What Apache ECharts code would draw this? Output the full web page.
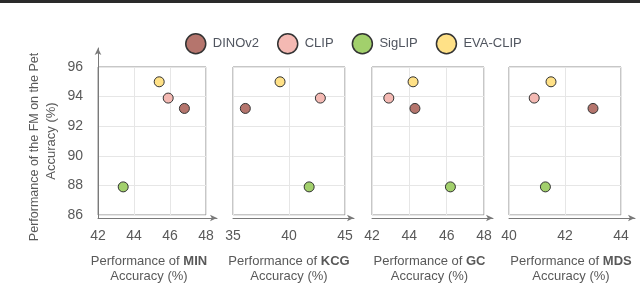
<!DOCTYPE html>
<html>
<head>
<meta charset="utf-8">
<script src="https://cdn.jsdelivr.net/npm/echarts@6/dist/echarts.min.js"></script>
<style>html,body{margin:0;padding:0;background:#fff;}#c{width:640px;height:289px;}</style>
</head>
<body>
<div id="c"></div>
<script>
// ---- data ----
const models = ['DINOv2', 'CLIP', 'SigLIP', 'EVA-CLIP'];
const petAcc = [93.2, 93.9, 87.9, 95.0];
const minAcc = [46.8, 45.9, 43.4, 45.4];
const kcgAcc = [36.1, 42.8, 41.8, 39.2];
const gcAcc  = [44.3, 42.9, 46.2, 44.2];
const mdsAcc = [43.0, 40.9, 41.3, 41.5];
const panelNames = ['MIN', 'KCG', 'GC', 'MDS'];
const panelX = [minAcc, kcgAcc, gcAcc, mdsAcc];
const xMin = [42, 35, 42, 40];
const xMax = [48, 45, 48, 44];
const xStep = [2, 5, 2, 2];
const yMin = 86, yMax = 96, yStep = 2;
const yNameLines = ['Performance of the FM on the Pet', 'Accuracy (%)'];

// ---- styles ----
const colors = ['#b5756d', '#f4b9b3', '#a2d06c', '#ffe187'];
const gridLeft = [98, 233, 372, 509];
const gridWidth = [108, 112, 112, 112];
const arrowExt = [11, 9, 9, 14];
const namePad = [[0, 6, 0, 0], [0, 0, 0, 0], [0, 0, 0, 3], [0, 0, 0, 12]];
const txt = '#595959';
const font = 'Liberation Sans, Arial, sans-serif';

const grid = [], xAxis = [], yAxis = [], series = [];
for (let p = 0; p < 4; p++) {
  grid.push({ left: gridLeft[p], top: 67, width: gridWidth[p], height: 151,
    show: true, borderColor: '#8f8f8f', borderWidth: 1, backgroundColor: 'transparent' });
  xAxis.push({
    type: 'value', gridIndex: p, min: xMin[p], max: xMax[p], interval: xStep[p],
    axisLine: { show: false }, axisTick: { show: false },
    axisLabel: { fontSize: 14, color: txt, margin: 14, fontFamily: font },
    splitLine: { show: true, lineStyle: { color: '#e6e6e6', width: 1 } },
    name: 'Performance of {b|' + panelNames[p] + '}\nAccuracy (%)',
    nameLocation: 'middle', nameGap: 39,
    nameTextStyle: { fontSize: 13, color: txt, lineHeight: 15, fontFamily: font,
      padding: namePad[p],
      rich: { b: { fontWeight: 'bold', fontSize: 13, color: txt, fontFamily: font, lineHeight: 15 } } }
  });
  yAxis.push({
    type: 'value', gridIndex: p, min: yMin, max: yMax, interval: yStep,
    axisLine: { show: false }, axisTick: { show: false },
    axisLabel: { show: p === 0, fontSize: 14, color: txt, margin: 15, fontFamily: font },
    splitLine: { show: true, lineStyle: { color: '#e6e6e6', width: 1 } },
    name: p === 0 ? '{a|' + yNameLines[0] + '}\n{b|' + yNameLines[1] + '}' : '',
    nameLocation: 'middle', nameGap: 39,
    nameTextStyle: { fontSize: 13, color: txt, lineHeight: 16, fontFamily: font,
      rich: {
        a: { fontSize: 12.5, color: txt, fontFamily: font, lineHeight: 16, padding: [0, 12, 0, 0] },
        b: { fontSize: 13, color: txt, fontFamily: font, lineHeight: 16 }
      } }
  });
  for (let s = 0; s < 4; s++) {
    series.push({
      type: 'scatter', name: models[s], xAxisIndex: p, yAxisIndex: p,
      symbol: 'circle', symbolSize: 10,
      itemStyle: { color: colors[s], borderColor: '#333', borderWidth: 1, opacity: 1 },
      emphasis: { disabled: true },
      data: [[panelX[p][s], petAcc[s]]], z: 5
    });
  }
}
// decorative arrow axes (extend beyond the frame)
for (let p = 0; p < 4; p++) {
  const gi = 4 + p;
  const top = p === 0 ? 48 : 67;
  grid.push({ left: gridLeft[p], top: top, width: gridWidth[p] + arrowExt[p], height: 218 - top, show: false });
  xAxis.push({ type: 'value', gridIndex: gi, min: 0, max: 1, show: true,
    axisLine: { show: true, symbol: ['none', 'arrow'], symbolSize: [5, 7], symbolOffset: [0, 0],
      lineStyle: { color: '#7a7a7a', width: 1 } },
    axisTick: { show: false }, axisLabel: { show: false }, splitLine: { show: false } });
  yAxis.push({ type: 'value', gridIndex: gi, min: 0, max: 1, show: p === 0,
    axisLine: { show: p === 0, symbol: ['none', 'arrow'], symbolSize: [5, 7],
      lineStyle: { color: '#7a7a7a', width: 1 } },
    axisTick: { show: false }, axisLabel: { show: false }, splitLine: { show: false } });
}

const chart = echarts.init(document.getElementById('c'), null, { renderer: 'canvas' });
chart.setOption({
  animation: false,
  backgroundColor: '#fff',
  textStyle: { fontFamily: font },
  legend: {
    data: models, left: 180, top: 28, icon: 'circle', itemWidth: 20, itemHeight: 20, itemGap: 18,
    itemStyle: { borderColor: '#333', borderWidth: 1.5 },
    textStyle: { fontSize: 13, color: '#50555f', fontFamily: font, padding: [0, 0, 0, 2] },
    selectedMode: false
  },
  graphic: [{ type: 'rect', left: 0, top: 0, shape: { width: 640, height: 3 }, style: { fill: '#2a2a2a' }, z: 100 }],
  grid: grid, xAxis: xAxis, yAxis: yAxis, series: series
});
</script>
</body>
</html>
